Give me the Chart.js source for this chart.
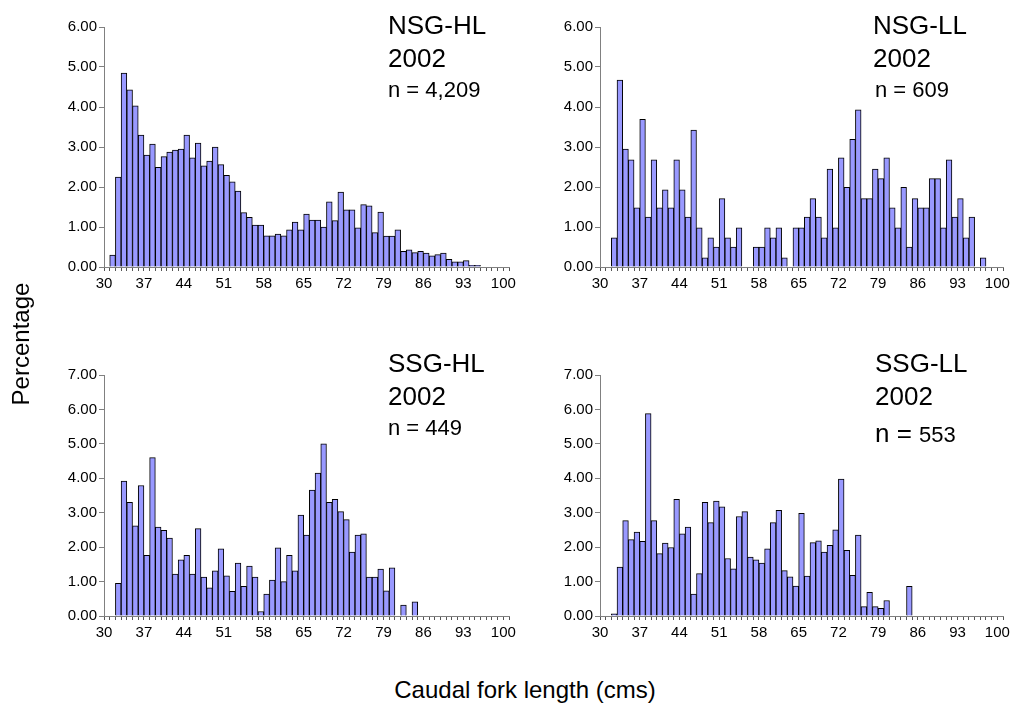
<!DOCTYPE html>
<html>
<head>
<meta charset="utf-8">
<script src="https://cdn.jsdelivr.net/npm/chart.js@4"></script>
<style>
  html, body { margin: 0; padding: 0; background: #fff; overflow: hidden; }
  #page { position: relative; width: 1016px; height: 716px; overflow: hidden; font-family: 'Liberation Sans', Arial, sans-serif; color: #000; }
  .panel { position: absolute; }
  .note { position: absolute; white-space: nowrap; font-size: 26px; line-height: 26px; }
  .note.small { font-size: 22px; line-height: 22px; }
  .note .num { font-size: 22px; }
  #ytitle { position: absolute; left: -79px; top: 329px; width: 200px; height: 30px; line-height: 30px; font-size: 24px; text-align: center; transform: rotate(-90deg); }
  #xtitle { position: absolute; left: 325px; top: 678px; width: 400px; line-height: 24px; font-size: 24px; text-align: center; }
</style>
</head>
<body>
<div id="page">
  <div class="panel" style="left:4px; top:12px;"><canvas id="c1" width="517" height="295"></canvas></div>
  <div class="panel" style="left:500px; top:12px;"><canvas id="c2" width="515" height="295"></canvas></div>
  <div class="panel" style="left:4px; top:360px;"><canvas id="c3" width="517" height="296"></canvas></div>
  <div class="panel" style="left:500px; top:360px;"><canvas id="c4" width="515" height="296"></canvas></div>

  <div class="note" style="left:388px; top:12px;">NSG-HL</div>
  <div class="note" style="left:388px; top:45px;">2002</div>
  <div class="note small" style="left:388px; top:79px;">n = 4,209</div>

  <div class="note" style="left:873px; top:12px;">NSG-LL</div>
  <div class="note" style="left:873px; top:45px;">2002</div>
  <div class="note small" style="left:875px; top:79px;">n = 609</div>

  <div class="note" style="left:388px; top:350px;">SSG-HL</div>
  <div class="note" style="left:388px; top:383px;">2002</div>
  <div class="note small" style="left:388px; top:417px;">n = 449</div>

  <div class="note" style="left:875px; top:350px;">SSG-LL</div>
  <div class="note" style="left:875px; top:383px;">2002</div>
  <div class="note" style="left:875px; top:420px;">n = <span class="num">553</span></div>

  <div id="ytitle">Percentage</div>
  <div id="xtitle">Caudal fork length (cms)</div>
</div>
<script>
// Caudal fork length classes (cm), one bar per class
var lengths = [];
for (var L = 30; L <= 100; L++) lengths.push(L);

var xTickLabels = [30, 37, 44, 51, 58, 65, 72, 79, 86, 93, 100];

// Percent of catch per length class, 30 .. 100 cm
var nsgHL = [
  null, 0.3, 2.25, 4.85, 4.43, 4.03, 3.3, 2.8, 3.07, 2.49,
  2.76, 2.87, 2.92, 2.95, 3.3, 2.73, 3.1, 2.53, 2.65, 3.0,
  2.56, 2.29, 2.13, 1.9, 1.36, 1.24, 1.05, 1.05, 0.78, 0.78,
  0.82, 0.78, 0.93, 1.12, 0.93, 1.32, 1.17, 1.17, 1.0, 1.63,
  1.16, 1.87, 1.43, 1.43, 0.98, 1.56, 1.53, 0.86, 1.37, 0.77,
  0.77, 0.93, 0.39, 0.43, 0.36, 0.39, 0.35, 0.28, 0.31, 0.35,
  0.19, 0.13, 0.13, 0.16, 0.04, 0.04, null, null, null, null,
  null
];
var nsgLL = [
  null, null, 0.73, 4.67, 2.95, 2.68, 1.48, 3.69, 1.25, 2.68,
  1.48, 1.93, 1.48, 2.68, 1.93, 1.25, 3.42, 0.98, 0.23, 0.73,
  0.5, 1.71, 0.73, 0.5, 0.98, null, null, 0.5, 0.5, 0.98,
  0.73, 0.98, 0.23, null, 0.98, 0.98, 1.25, 1.71, 1.25, 0.73,
  2.45, 0.98, 2.73, 1.99, 3.19, 3.93, 1.71, 1.71, 2.45, 2.21,
  2.73, 1.48, 0.98, 1.99, 0.5, 1.71, 1.48, 1.48, 2.21, 2.21,
  0.98, 2.68, 1.25, 1.71, 0.73, 1.25, null, 0.23, null, null,
  null
];
var ssgHL = [
  null, null, 0.95, 3.92, 3.3, 2.62, 3.79, 1.76, 4.6, 2.58,
  2.49, 2.26, 1.22, 1.63, 1.76, 1.22, 2.54, 1.13, 0.82, 1.31,
  1.95, 1.17, 0.72, 1.54, 0.86, 1.45, 1.13, 0.13, 0.64, 1.04,
  1.98, 1.0, 1.76, 1.31, 2.93, 2.35, 3.66, 4.15, 5.0, 3.3,
  3.39, 3.03, 2.8, 1.86, 2.35, 2.39, 1.13, 1.13, 1.36, 0.73,
  1.4, null, 0.32, null, 0.41, null, null, null, null, null,
  null, null, null, null, null, null, null, null, null, null,
  null
];
var ssgLL = [
  null, null, 0.06, 1.42, 2.77, 2.22, 2.44, 2.17, 5.88, 2.77,
  1.81, 2.12, 1.99, 3.39, 2.39, 2.58, 0.64, 1.23, 3.3, 2.71,
  3.34, 3.17, 1.67, 1.37, 2.89, 3.03, 1.71, 1.63, 1.54, 1.95,
  2.71, 3.07, 1.32, 1.14, 0.87, 2.98, 1.16, 2.13, 2.18, 1.86,
  2.05, 2.5, 3.98, 1.91, 1.18, 2.35, 0.27, 0.69, 0.27, 0.22,
  0.45, null, null, null, 0.86, null, null, null, null, null,
  null, null, null, null, null, null, null, null, null, null,
  null
];

Chart.defaults.font.family = "'Liberation Sans', Arial, sans-serif";
Chart.defaults.color = '#000';

function makeChart(id, values, yMax) {
    return new Chart(document.getElementById(id), {
        type: 'bar',
        data: {
            labels: lengths,
            datasets: [{
                data: values,
                backgroundColor: '#9999ff',
                borderColor: '#000000',
                borderWidth: 1,
                borderSkipped: 'bottom',
                barPercentage: 1,
                categoryPercentage: 1
            }]
        },
        options: {
            responsive: false,
            animation: false,
            layout: { padding: { top: 15, right: 12, left: 0, bottom: 0 } },
            plugins: {
                legend: { display: false },
                tooltip: { enabled: false }
            },
            scales: {
                x: {
                    grid: { drawOnChartArea: false, offset: true, tickLength: 4, color: '#555555' },
                    border: { color: '#808080' },
                    ticks: {
                        autoSkip: false,
                        maxRotation: 0,
                        minRotation: 0,
                        labelOffset: -2.85,
                        padding: 4,
                        font: { size: 15 },
                        callback: function(v, i) {
                            return xTickLabels.indexOf(lengths[i]) >= 0 ? String(lengths[i]) : '';
                        }
                    },
                    afterFit: function(s) { s.height = 40; s.paddingLeft = 0; s.paddingRight = 0; }
                },
                y: {
                    min: 0,
                    max: yMax,
                    grid: { drawOnChartArea: false, tickLength: 5, color: '#808080' },
                    border: { color: '#808080' },
                    ticks: {
                        stepSize: 1,
                        padding: 2,
                        font: { size: 15 },
                        callback: function(v) { return v.toFixed(2); }
                    },
                    afterFit: function(s) { s.width = 100; s.paddingTop = 0; s.paddingBottom = 0; }
                }
            }
        }
    });
}

makeChart('c1', nsgHL, 6);
makeChart('c2', nsgLL, 6);
makeChart('c3', ssgHL, 7);
makeChart('c4', ssgLL, 7);
</script>
</body>
</html>
